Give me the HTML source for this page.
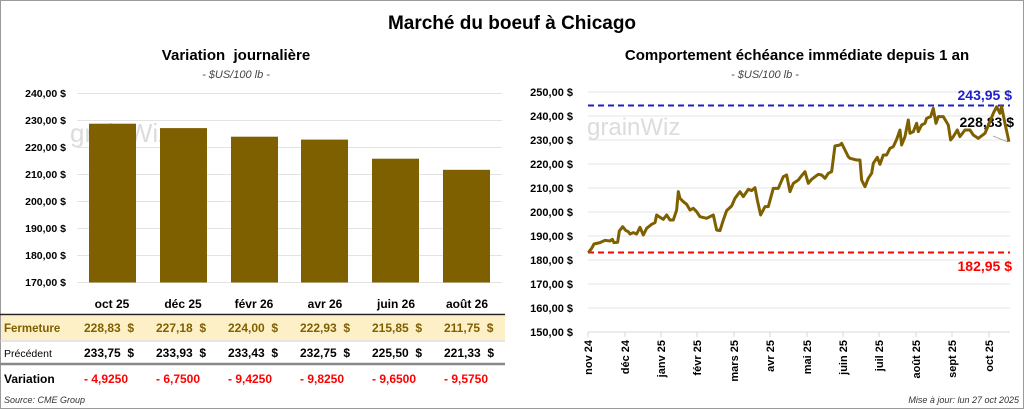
<!DOCTYPE html>
<html><head><meta charset="utf-8"><style>
body{margin:0;background:#fff}
svg{display:block;font-family:"Liberation Sans",sans-serif}
text{white-space:pre}
</style></head><body>
<svg width="1024" height="409" viewBox="0 0 1024 409" xmlns="http://www.w3.org/2000/svg">
<rect x="0.5" y="0.5" width="1023" height="408" fill="#fff" stroke="#9a9a9a"/>
<text x="512" y="29" text-anchor="middle" font-size="19" font-weight="bold">Marché du boeuf à Chicago</text>
<text x="236" y="60" text-anchor="middle" font-size="15" font-weight="bold">Variation  journalière</text>
<text x="236" y="78" text-anchor="middle" font-size="11" font-style="italic" fill="#444">- $US/100 lb -</text>
<text x="797" y="60" text-anchor="middle" font-size="15" font-weight="bold">Comportement échéance immédiate depuis 1 an</text>
<text x="765" y="78" text-anchor="middle" font-size="11" font-style="italic" fill="#444">- $US/100 lb -</text>
<g stroke="#e3e3e3" stroke-width="1">
<line x1="77" x2="502" y1="93.5" y2="93.5"/><line x1="77" x2="502" y1="120.5" y2="120.5"/>
<line x1="77" x2="502" y1="147.5" y2="147.5"/><line x1="77" x2="502" y1="174.5" y2="174.5"/>
<line x1="77" x2="502" y1="201.5" y2="201.5"/><line x1="77" x2="502" y1="228.5" y2="228.5"/>
<line x1="77" x2="502" y1="255.5" y2="255.5"/><line x1="77" x2="502" y1="282.5" y2="282.5"/>
</g>
<g font-size="10.5" font-weight="bold" text-anchor="end">
<text x="66" y="97">240,00 $</text><text x="66" y="124">230,00 $</text><text x="66" y="151">220,00 $</text>
<text x="66" y="178">210,00 $</text><text x="66" y="205">200,00 $</text><text x="66" y="232">190,00 $</text>
<text x="66" y="259">180,00 $</text><text x="66" y="286">170,00 $</text>
</g>
<text x="70" y="142" font-size="26" fill="#dcdcdc">grainWiz</text>
<g fill="#7f6000">
<rect x="89" y="123.7" width="47" height="158.8"/>
<rect x="160" y="128.1" width="47" height="154.4"/>
<rect x="231" y="136.7" width="47" height="145.8"/>
<rect x="301" y="139.6" width="47" height="142.9"/>
<rect x="372" y="158.7" width="47" height="123.8"/>
<rect x="443" y="169.8" width="47" height="112.7"/>
</g>
<g font-size="12" font-weight="bold" text-anchor="middle">
<text x="112" y="308">oct 25</text><text x="183" y="308">déc 25</text><text x="254" y="308">févr 26</text>
<text x="325" y="308">avr 26</text><text x="396" y="308">juin 26</text><text x="467" y="308">août 26</text>
</g>
<line x1="0" x2="505" y1="314.5" y2="314.5" stroke="#222" stroke-width="1.5"/>
<rect x="1" y="316" width="504" height="24" fill="#fdf0c6"/>
<line x1="0" x2="505" y1="341" y2="341" stroke="#ccc"/>
<g font-size="12" font-weight="bold" fill="#7f6000">
<text x="4" y="332" font-size="11.5">Fermeture</text>
<text x="84" y="332">228,83  $</text><text x="156" y="332">227,18  $</text><text x="228" y="332">224,00  $</text>
<text x="300" y="332">222,93  $</text><text x="372" y="332">215,85  $</text><text x="444" y="332">211,75  $</text>
</g>
<g font-size="12" font-weight="bold" fill="#000">
<text x="4" y="357" font-size="10.5" font-weight="normal">Précédent</text>
<text x="84" y="357">233,75  $</text><text x="156" y="357">233,93  $</text><text x="228" y="357">233,43  $</text>
<text x="300" y="357">232,75  $</text><text x="372" y="357">225,50  $</text><text x="444" y="357">221,33  $</text>
</g>
<line x1="0" x2="505" y1="364" y2="364" stroke="#888" stroke-width="2.5"/>
<g font-size="12" font-weight="bold" fill="#f00">
<text x="4" y="383" fill="#000">Variation</text>
<text x="84" y="383">- 4,9250</text><text x="156" y="383">- 6,7500</text><text x="228" y="383">- 9,4250</text>
<text x="300" y="383">- 9,8250</text><text x="372" y="383">- 9,6500</text><text x="444" y="383">- 9,5750</text>
</g>
<text x="4" y="403" font-size="9" font-style="italic" fill="#333">Source: CME Group</text>
<text x="1019" y="403" font-size="9" font-style="italic" fill="#333" text-anchor="end">Mise à jour: lun 27 oct 2025</text>
<g stroke="#e6e6e6">
<line x1="588" x2="1010" y1="92" y2="92"/><line x1="588" x2="1010" y1="116" y2="116"/>
<line x1="588" x2="1010" y1="140" y2="140"/><line x1="588" x2="1010" y1="164" y2="164"/>
<line x1="588" x2="1010" y1="188" y2="188"/><line x1="588" x2="1010" y1="212" y2="212"/>
<line x1="588" x2="1010" y1="236" y2="236"/><line x1="588" x2="1010" y1="260" y2="260"/>
<line x1="588" x2="1010" y1="284" y2="284"/><line x1="588" x2="1010" y1="308" y2="308"/>
</g>
<line x1="588" x2="1010" y1="332" y2="332" stroke="#d9d9d9"/>
<g stroke="#d9d9d9">
<line x1="588" x2="588" y1="332" y2="337"/><line x1="625" x2="625" y1="332" y2="337"/><line x1="661" x2="661" y1="332" y2="337"/>
<line x1="697" x2="697" y1="332" y2="337"/><line x1="734" x2="734" y1="332" y2="337"/><line x1="770" x2="770" y1="332" y2="337"/>
<line x1="807" x2="807" y1="332" y2="337"/><line x1="843" x2="843" y1="332" y2="337"/><line x1="879" x2="879" y1="332" y2="337"/>
<line x1="916" x2="916" y1="332" y2="337"/><line x1="952" x2="952" y1="332" y2="337"/><line x1="989" x2="989" y1="332" y2="337"/>
</g>
<g font-size="11" font-weight="bold" text-anchor="end">
<text x="573" y="96">250,00 $</text><text x="573" y="120">240,00 $</text><text x="573" y="144">230,00 $</text>
<text x="573" y="168">220,00 $</text><text x="573" y="192">210,00 $</text><text x="573" y="216">200,00 $</text>
<text x="573" y="240">190,00 $</text><text x="573" y="264">180,00 $</text><text x="573" y="288">170,00 $</text>
<text x="573" y="312">160,00 $</text><text x="573" y="336">150,00 $</text>
</g>
<g font-size="11" font-weight="bold" text-anchor="end">
<text transform="translate(592,340) rotate(-90)">nov 24</text>
<text transform="translate(629,340) rotate(-90)">déc 24</text>
<text transform="translate(665,340) rotate(-90)">janv 25</text>
<text transform="translate(701,340) rotate(-90)">févr 25</text>
<text transform="translate(738,340) rotate(-90)">mars 25</text>
<text transform="translate(774,340) rotate(-90)">avr 25</text>
<text transform="translate(811,340) rotate(-90)">mai 25</text>
<text transform="translate(847,340) rotate(-90)">juin 25</text>
<text transform="translate(883,340) rotate(-90)">juil 25</text>
<text transform="translate(920,340) rotate(-90)">août 25</text>
<text transform="translate(956,340) rotate(-90)">sept 25</text>
<text transform="translate(993,340) rotate(-90)">oct 25</text>
</g>
<text x="587" y="135" font-size="24" fill="#dcdcdc">grainWiz</text>
<line x1="588" x2="1010" y1="105.5" y2="105.5" stroke="#1f1fc8" stroke-width="2" stroke-dasharray="6,4"/>
<line x1="588" x2="1010" y1="252.5" y2="252.5" stroke="#f00" stroke-width="2" stroke-dasharray="6,4"/>
<text x="1012" y="100" font-size="14" font-weight="bold" fill="#1f1fc8" text-anchor="end">243,95 $</text>
<text x="1012" y="271" font-size="14" font-weight="bold" fill="#f00" text-anchor="end">182,95 $</text>
<text x="1014" y="127" font-size="14" font-weight="bold" fill="#000" text-anchor="end">228,83 $</text>
<line x1="993" y1="136" x2="1008" y2="142" stroke="#999" stroke-width="0.7"/>
<g transform="translate(520,80) scale(0.3333)">
<polyline fill="none" stroke="#7f6000" stroke-width="9" stroke-linejoin="round" points="205,518 215,505 222,492 240,488 255,481 270,483 277,478 282,488 293,487 298,453 308,440 318,452 325,455 330,462 340,458 350,462 360,442 370,465 380,445 395,433 405,428 410,405 420,412 430,418 440,405 450,420 460,420 470,390 475,335 480,355 490,365 500,373 510,390 520,385 530,395 540,410 560,415 580,405 590,450 600,452 610,420 620,392 635,378 645,355 660,335 670,350 685,328 695,332 705,323 712,360 722,405 735,380 745,380 760,325 775,325 790,290 800,285 810,335 820,310 835,300 845,287 855,275 865,310 875,298 895,283 905,285 915,295 925,280 935,275 945,198 960,195 965,190 975,210 985,230 990,235 1010,240 1020,240 1025,300 1035,320 1045,295 1055,280 1060,250 1072,232 1080,253 1090,225 1100,225 1110,205 1120,200 1130,178 1140,150 1145,195 1155,170 1165,120 1170,160 1180,155 1190,130 1195,155 1205,135 1215,130 1220,115 1232,110 1240,85 1248,130 1255,110 1270,110 1285,135 1292,180 1300,170 1312,150 1320,170 1335,150 1350,150 1360,165 1375,175 1395,160 1410,125 1420,100 1430,80 1440,100 1445,80 1455,130 1467,185"/>
</g>
</svg>
</body></html>
